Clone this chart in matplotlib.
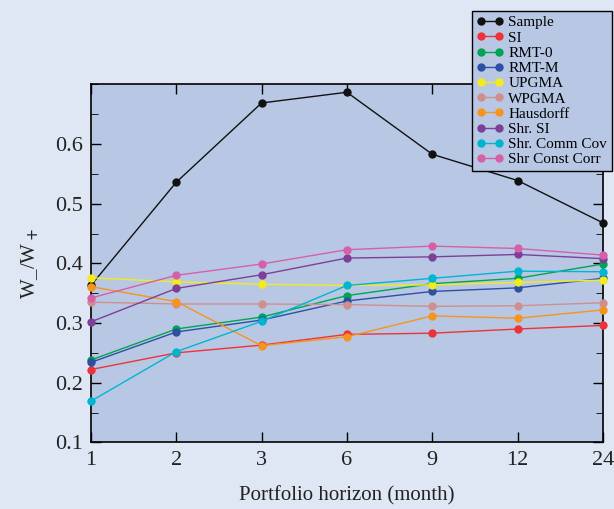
import matplotlib.pyplot as plt
from matplotlib.ticker import MultipleLocator

plt.rcParams['font.family'] = ['Liberation Serif', 'DejaVu Serif']

horizons = ["1", "2", "3", "6", "9", "12", "24"]

sample = [0.363, 0.536, 0.669, 0.687, 0.583, 0.539, 0.468]
si = [0.222, 0.250, 0.263, 0.281, 0.283, 0.290, 0.296]
rmt0 = [0.238, 0.290, 0.310, 0.346, 0.366, 0.375, 0.399]
rmtm = [0.234, 0.285, 0.305, 0.337, 0.353, 0.359, 0.375]
upgma = [0.376, 0.369, 0.365, 0.363, 0.364, 0.368, 0.372]
wpgma = [0.335, 0.332, 0.332, 0.331, 0.328, 0.329, 0.334]
hausdorff = [0.361, 0.336, 0.262, 0.277, 0.312, 0.308, 0.322]
shr_si = [0.302, 0.358, 0.381, 0.409, 0.411, 0.415, 0.408]
shr_comm_cov = [0.169, 0.252, 0.303, 0.363, 0.375, 0.387, 0.386]
shr_const_corr = [0.342, 0.380, 0.399, 0.423, 0.429, 0.425, 0.414]

series = [
    ("Sample", sample, "#111111"),
    ("SI", si, "#ee3338"),
    ("RMT-0", rmt0, "#00a551"),
    ("RMT-M", rmtm, "#2f4fa2"),
    ("UPGMA", upgma, "#f2ec1c"),
    ("WPGMA", wpgma, "#d08f8f"),
    ("Hausdorff", hausdorff, "#f7941e"),
    ("Shr. SI", shr_si, "#7d3f98"),
    ("Shr. Comm Cov", shr_comm_cov, "#00b5d1"),
    ("Shr Const Corr", shr_const_corr, "#d660a8"),
]

fig = plt.figure(figsize=(6.14, 5.09), dpi=100, facecolor="#e0e7f4")
ax = fig.add_axes([0.148, 0.131, 0.834, 0.703], facecolor="#b8c8e4")

x = range(len(horizons))
for name, vals, col in series:
    ax.plot(x, vals, "-o", color=col, lw=1, ms=5, label=name, clip_on=False, zorder=3)

ax.set_xlim(0, len(horizons) - 1)
ax.set_ylim(0.1, 0.7)
ax.set_xticks(list(x))
ax.set_xticklabels(horizons)
ax.yaxis.set_major_locator(MultipleLocator(0.1))
ax.yaxis.set_minor_locator(MultipleLocator(0.05))
ax.set_yticks([0.1, 0.2, 0.3, 0.4, 0.5, 0.6])
ax.tick_params(direction="in", top=True, right=True, labelsize=16, length=7, width=1,
               pad=6, labelcolor="#222222")
ax.tick_params(which="minor", direction="in", right=True, length=5)
for s in ax.spines.values():
    s.set_linewidth(1.2)

ax.set_xlabel("Portfolio horizon (month)", fontsize=15, color="#222222", labelpad=12)
ax.set_ylabel("W_/W$_+$", fontsize=15, color="#222222", labelpad=10)

leg = fig.legend(loc="upper right", bbox_to_anchor=(0.996, 0.978), numpoints=2,
                 fontsize=11, frameon=True, fancybox=False, edgecolor="black",
                 facecolor="#b8c8e4", framealpha=1, handlelength=1.8,
                 labelspacing=0.1, borderpad=0.3, handletextpad=0.3, borderaxespad=0)
leg.get_frame().set_linewidth(1.0)

fig.savefig("out.png", dpi=100, facecolor=fig.get_facecolor())
